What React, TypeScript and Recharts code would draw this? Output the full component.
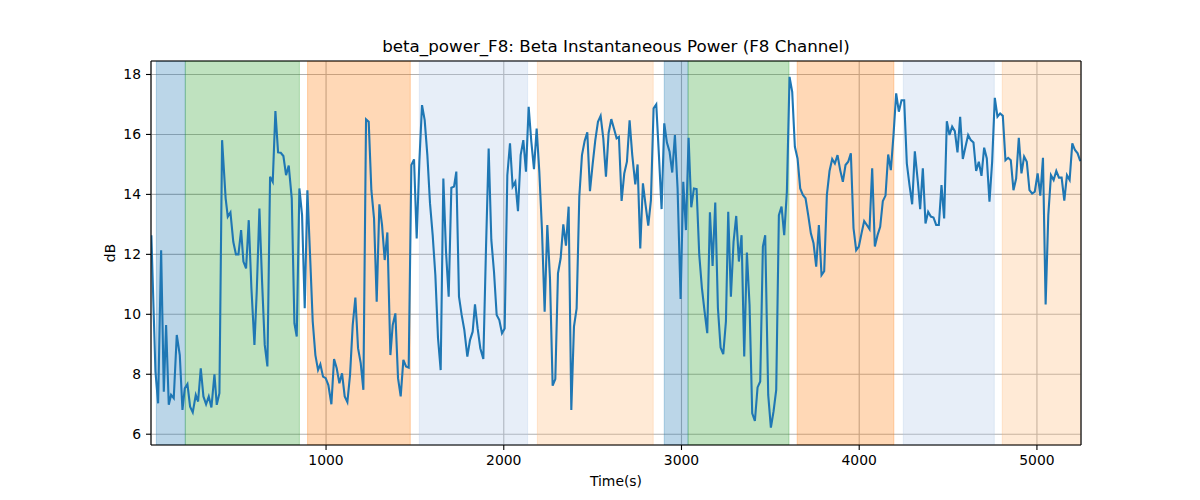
import { LineChart, Line, XAxis, YAxis, CartesianGrid, ReferenceArea } from "recharts";

// time (s) of each sample and the beta power in dB
const times = [
  17, 40, 55, 72, 87, 100, 115, 128, 143, 160, 177, 192, 205, 220, 235, 250, 267, 280, 295, 310,
  325, 340, 355, 372, 385, 400, 415, 435, 447, 462, 478, 493, 507, 522, 535, 550, 565, 580, 597, 610,
  625, 640, 655, 670, 685, 700, 715, 730, 745, 760, 775, 790, 807, 822, 835, 850, 865, 880, 895, 910,
  925, 940, 955, 968, 983, 998, 1013, 1030, 1045, 1060, 1075, 1090, 1105, 1120, 1135, 1150, 1165, 1180, 1195, 1210,
  1225, 1240, 1255, 1270, 1285, 1300, 1315, 1330, 1345, 1362, 1375, 1390, 1405, 1420, 1435, 1450, 1465, 1480, 1495, 1510,
  1525, 1540, 1555, 1570, 1585, 1600, 1615, 1630, 1645, 1660, 1675, 1690, 1705, 1720, 1733, 1748, 1763, 1778, 1795, 1810,
  1825, 1838, 1853, 1868, 1885, 1900, 1915, 1930, 1945, 1960, 1975, 1990, 2005, 2020, 2035, 2050, 2065, 2080, 2095, 2110,
  2125, 2140, 2155, 2170, 2185, 2200, 2215, 2230, 2245, 2260, 2275, 2290, 2305, 2320, 2335, 2350, 2365, 2380, 2395, 2410,
  2425, 2440, 2455, 2470, 2485, 2500, 2515, 2530, 2545, 2560, 2575, 2590, 2605, 2620, 2635, 2648, 2663, 2678, 2693, 2708,
  2723, 2740, 2753, 2768, 2783, 2798, 2813, 2828, 2843, 2858, 2873, 2888, 2903, 2918, 2933, 2948, 2963, 2978, 2995, 3010,
  3025, 3040, 3055, 3070, 3085, 3100, 3115, 3130, 3145, 3160, 3175, 3190, 3205, 3220, 3235, 3250, 3263, 3278, 3293, 3308,
  3323, 3338, 3353, 3368, 3383, 3398, 3413, 3428, 3443, 3458, 3471, 3488, 3503, 3518, 3533, 3548, 3563, 3578, 3593, 3608,
  3623, 3638, 3653, 3668, 3683, 3698, 3713, 3728, 3743, 3758, 3773, 3788, 3803, 3818, 3833, 3848, 3863, 3878, 3893, 3908,
  3923, 3938, 3953, 3968, 3983, 3998, 4013, 4028, 4043, 4058, 4073, 4088, 4103, 4118, 4133, 4148, 4163, 4178, 4193, 4208,
  4223, 4238, 4253, 4268, 4283, 4298, 4313, 4330, 4343, 4358, 4373, 4388, 4403, 4418, 4433, 4448, 4463, 4478, 4493, 4508,
  4523, 4538, 4553, 4568, 4583, 4598, 4613, 4628, 4643, 4658, 4673, 4688, 4703, 4718, 4733, 4748, 4763, 4778, 4793, 4808,
  4823, 4838, 4853, 4868, 4883, 4898, 4913, 4928, 4943, 4958, 4973, 4988, 5004, 5019, 5034, 5049, 5064, 5079, 5094, 5109,
  5124, 5139, 5154, 5169, 5184, 5199, 5214, 5229, 5244,
];

const power = [
  12.64, 8.09, 7.03, 12.14, 7.42, 9.64, 6.98, 7.31, 7.2, 9.31, 8.64, 6.81, 7.53, 7.67, 6.92, 6.73, 7.31, 7.09, 8.2, 7.26,
  7.0, 7.26, 6.89, 8.0, 6.98, 7.37, 15.81, 13.87, 13.26, 13.4, 12.42, 12.0, 12.0, 12.81, 11.76, 11.53, 13.14, 10.87, 8.98, 10.76,
  13.53, 11.09, 8.98, 8.26, 14.59, 14.42, 16.78, 15.4, 15.39, 15.28, 14.64, 14.96, 13.87, 9.7, 9.26, 14.2, 13.31, 10.2, 14.14, 11.98,
  9.76, 8.64, 8.14, 8.33, 7.92, 7.87, 7.64, 7.0, 8.51, 8.2, 7.7, 8.03, 7.26, 7.07, 7.98, 9.64, 10.56, 8.87, 8.37, 7.48,
  16.5, 16.42, 14.14, 13.2, 10.42, 13.67, 12.98, 11.81, 12.73, 8.64, 9.64, 10.03, 7.87, 7.26, 8.48, 8.26, 8.22, 14.98, 15.17, 12.53,
  15.09, 16.98, 16.48, 15.31, 13.7, 12.64, 11.31, 9.2, 8.14, 14.53, 12.09, 10.59, 14.22, 14.26, 14.76, 10.59, 9.98, 9.48, 8.59, 9.14,
  9.42, 10.33, 9.53, 8.87, 8.51, 12.2, 15.53, 12.48, 11.42, 9.98, 9.81, 9.37, 9.53, 14.64, 15.7, 14.26, 14.42, 13.44, 15.31, 15.81,
  14.76, 16.92, 15.76, 14.84, 16.2, 14.76, 12.81, 10.09, 12.98, 11.2, 7.62, 7.84, 11.37, 11.87, 13.0, 12.29, 13.59, 6.81, 9.59, 10.2,
  13.92, 15.31, 15.78, 16.07, 14.11, 15.0, 15.81, 16.42, 16.62, 15.87, 14.59, 16.05, 16.51, 16.2, 15.87, 15.92, 13.78, 14.7, 15.09, 16.47,
  15.31, 14.33, 15.0, 12.2, 14.37, 13.64, 12.96, 13.81, 16.87, 17.0, 15.31, 13.51, 16.37, 15.73, 15.42, 14.73, 15.98, 14.2, 10.51, 14.42,
  12.81, 15.89, 13.57, 14.2, 14.18, 11.98, 10.87, 10.09, 9.37, 13.4, 11.61, 13.73, 10.2, 8.89, 8.67, 9.76, 13.42, 10.59, 12.42, 13.28,
  11.76, 12.64, 8.59, 12.06, 10.31, 6.7, 6.44, 7.56, 7.76, 12.26, 12.64, 7.31, 6.22, 6.76, 7.48, 13.31, 13.59, 12.64, 14.09, 17.92,
  17.42, 15.59, 15.2, 14.2, 13.98, 13.87, 13.31, 12.7, 12.37, 11.59, 12.98, 11.31, 11.44, 13.98, 14.78, 15.18, 15.03, 15.31, 14.81, 14.42,
  14.98, 15.09, 15.37, 12.87, 12.14, 12.26, 12.7, 13.11, 12.98, 12.84, 14.87, 12.26, 12.64, 12.92, 13.78, 13.96, 15.33, 14.81, 15.98, 17.37,
  16.76, 17.14, 17.14, 15.03, 14.31, 13.67, 15.44, 14.42, 13.51, 14.87, 13.03, 13.42, 13.26, 13.23, 12.98, 12.98, 14.31, 13.2, 16.44, 15.98,
  16.26, 16.11, 15.4, 16.59, 15.18, 15.59, 15.98, 15.81, 15.73, 14.78, 15.09, 14.62, 15.56, 15.2, 13.76, 15.09, 17.22, 16.59, 16.7, 16.62,
  15.14, 15.22, 15.14, 14.14, 14.53, 15.89, 14.7, 15.26, 15.09, 14.14, 14.03, 14.09, 14.7, 13.96, 15.22, 10.33, 13.31, 14.64, 14.48, 14.78,
  14.56, 14.56, 13.79, 14.64, 14.48, 15.7, 15.48, 15.37, 15.11,
];

// shaded stage intervals
const spanStart = [45, 208, 896, 1525, 2189, 2903, 3037, 3651, 4248, 4805];
const spanEnd = [208, 850, 1474, 2134, 2841, 3037, 3605, 4195, 4760, 5300];
const spanColor = ["#1f77b4", "#2ca02c", "#ff7f0e", "#aec7e8", "#ffbb78", "#1f77b4", "#2ca02c", "#ff7f0e", "#aec7e8", "#ffbb78"];

const xTicks = [1000, 2000, 3000, 4000, 5000];
const yTicks = [6, 8, 10, 12, 14, 16, 18];
const xDomain = [15, 5248];
const yDomain = [5.64, 18.45];

const data = times.map((t, i) => ({ t, power: power[i] }));

const font = "'DejaVu Sans', sans-serif";
const tickStyle = { fontSize: 13.9, fill: "#000", fontFamily: font };
const black = { stroke: "#000", strokeWidth: 1.1 };

export default function App() {
  return (
    <div style={{ position: "absolute", left: 0, top: 0, width: 1200, height: 500, background: "#fff", fontFamily: font }}>
      <LineChart width={1200} height={500} data={data} margin={{ top: 60, right: 118, bottom: 25, left: 91 }}>
        <CartesianGrid stroke="#b0b0b0" strokeWidth={1.1} />
        {spanStart.map((s, i) => (
          <ReferenceArea
            key={i}
            x1={s}
            x2={spanEnd[i]}
            fill={spanColor[i]}
            fillOpacity={0.3}
            stroke={spanColor[i]}
            strokeOpacity={0.3}
            ifOverflow="hidden"
          />
        ))}
        <XAxis
          dataKey="t"
          type="number"
          domain={xDomain}
          ticks={xTicks}
          allowDataOverflow
          height={30}
          tickSize={5}
          tickMargin={5}
          tick={tickStyle}
          axisLine={black}
          tickLine={black}
        />
        <XAxis xAxisId="top" orientation="top" dataKey="t" type="number" domain={xDomain} ticks={xTicks} allowDataOverflow height={1} tick={false} tickLine={false} axisLine={black} />
        <YAxis
          type="number"
          domain={yDomain}
          ticks={yTicks}
          allowDataOverflow
          width={60}
          tickSize={5}
          tickMargin={5}
          tick={tickStyle}
          axisLine={black}
          tickLine={black}
        />
        <YAxis yAxisId="right" orientation="right" type="number" domain={yDomain} ticks={yTicks} allowDataOverflow width={1} tick={false} tickLine={false} axisLine={black} />
        <Line type="linear" dataKey="power" stroke="#1f77b4" strokeWidth={2.1} dot={false} isAnimationActive={false} />
      </LineChart>
      <div style={{ position: "absolute", left: 151, width: 930, top: 36, lineHeight: "20px", fontSize: 16.7, textAlign: "center", color: "#000" }}>
        beta_power_F8: Beta Instantaneous Power (F8 Channel)
      </div>
      <div style={{ position: "absolute", left: 151, width: 930, top: 472, lineHeight: "18px", fontSize: 13.9, textAlign: "center", color: "#000" }}>
        Time(s)
      </div>
      <div style={{ position: "absolute", left: 90, top: 244, width: 40, lineHeight: "18px", fontSize: 13.9, textAlign: "center", color: "#000", transform: "rotate(-90deg)" }}>
        dB
      </div>
    </div>
  );
}
